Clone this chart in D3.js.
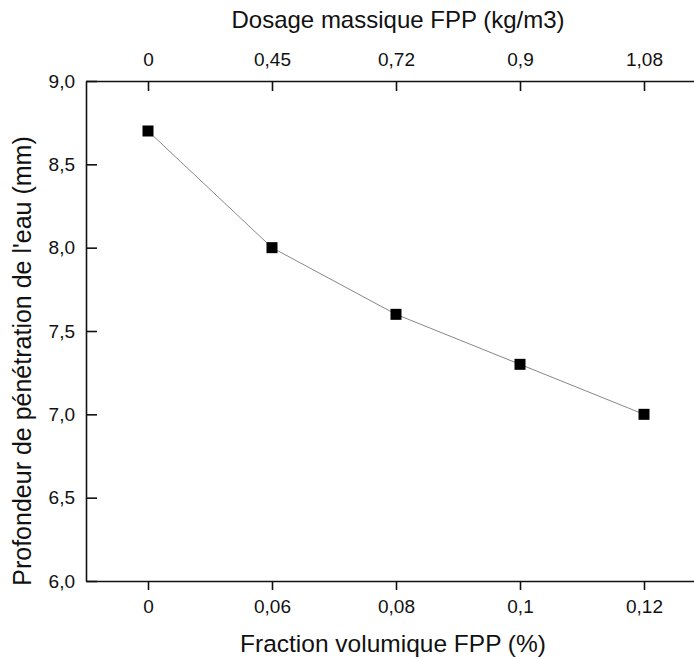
<!DOCTYPE html>
<html><head><meta charset="utf-8">
<script src="https://cdn.jsdelivr.net/npm/d3@7"></script>
<style>body{margin:0;background:#fff}svg{display:block}text{font-family:"Liberation Sans",Arial,sans-serif;fill:#111}</style>
</head><body>
<script>
const fractionLabels = ["0", "0,06", "0,08", "0,1", "0,12"];
const dosageLabels = ["0", "0,45", "0,72", "0,9", "1,08"];
const depthValues = [8.7, 8.0, 7.6, 7.3, 7.0];
const yTicks = [6.0, 6.5, 7.0, 7.5, 8.0, 8.5, 9.0];

(function () {
const W = 694, H = 659;
const pLeft = 86, pTop = 81, pBottom = 581, pRight = 706;
const svg = d3.select("body").append("svg").attr("width", W).attr("height", H);

const x = d3.scaleLinear().domain([-0.5, fractionLabels.length - 0.5]).range([pLeft, pRight]);
const y = d3.scaleLinear().domain([6, 9]).range([pBottom, pTop]);
const idx = fractionLabels.map((_, i) => i);
const fmt = d => d3.format(".1f")(d).replace(".", ",");

const gb = svg.append("g").attr("transform", `translate(0,${pBottom})`)
  .call(d3.axisBottom(x).tickValues(idx).tickFormat(i => fractionLabels[i]).tickSize(9).tickPadding(10).tickSizeOuter(0));
const gt = svg.append("g").attr("transform", `translate(0,${pTop})`)
  .call(d3.axisTop(x).tickValues(idx).tickFormat(i => dosageLabels[i]).tickSize(-10).tickPadding(15).tickSizeOuter(0));
const gl = svg.append("g").attr("transform", `translate(${pLeft},0)`)
  .call(d3.axisLeft(y).tickValues(yTicks).tickFormat(fmt).tickSize(-11).tickPadding(11).tickSizeOuter(0));

[gb, gt, gl].forEach(g => {
  g.select(".domain").attr("stroke", "#111").attr("stroke-width", 1.6);
  g.selectAll(".tick line").attr("stroke", "#111").attr("stroke-width", 1.6);
  g.selectAll(".tick text").attr("font-size", 19).attr("fill", "#111")
   .style("font-family", '"Liberation Sans",Arial,sans-serif');
});

svg.append("path").datum(depthValues)
  .attr("fill", "none").attr("stroke", "#888").attr("stroke-width", 1)
  .attr("d", d3.line().x((d, i) => x(i)).y(d => y(d)));

const ms = 11;
svg.selectAll("rect.m").data(depthValues).join("rect").attr("class", "m")
  .attr("x", (d, i) => x(i) - ms / 2).attr("y", d => y(d) - ms / 2)
  .attr("width", ms).attr("height", ms).attr("fill", "#000");

svg.append("text").attr("x", 398).attr("y", 28).attr("text-anchor", "middle")
  .attr("font-size", 24).text("Dosage massique FPP (kg/m3)");
svg.append("text").attr("x", 393).attr("y", 652).attr("text-anchor", "middle")
  .attr("font-size", 24.5).text("Fraction volumique FPP (%)");
svg.append("text").attr("transform", "translate(31,361) rotate(-90)").attr("text-anchor", "middle")
  .attr("font-size", 25).text("Profondeur de pénétration de l'eau (mm)");
})();
</script>
</body></html>
